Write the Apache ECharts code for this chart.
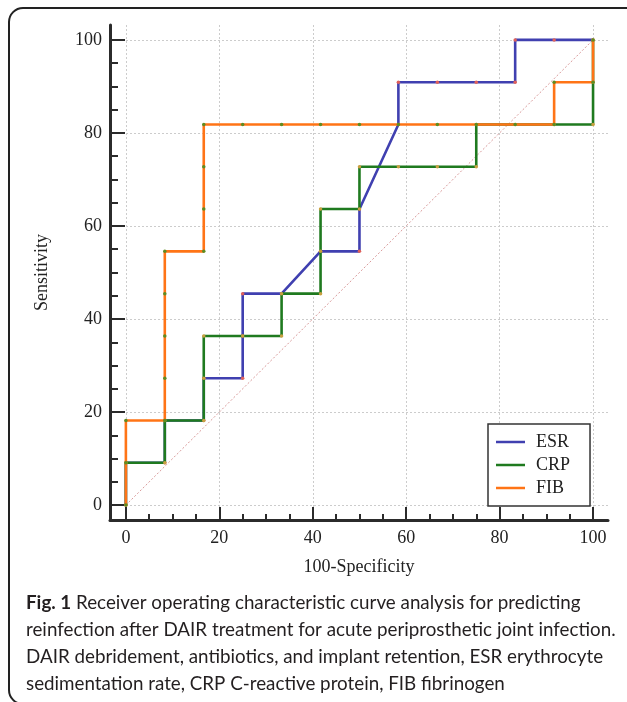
<!DOCTYPE html>
<html>
<head>
<meta charset="utf-8">
<script src="https://cdn.jsdelivr.net/npm/echarts@6.0.0/dist/echarts.min.js"></script>
<style>
html, body { margin: 0; padding: 0; background: #fff; }
#chart { width: 627px; height: 702px; }
</style>
</head>
<body>
<div id="chart"></div>
<script>
// ROC points: x = 100-Specificity, y = Sensitivity
var esrX = [0, 0, 8.33, 8.33, 16.67, 16.67, 25, 25, 25, 33.33, 41.67, 50, 50, 58.33, 58.33, 66.67, 75, 83.33, 83.33, 91.67, 100];
var esrY = [0, 9.09, 9.09, 18.18, 18.18, 27.27, 27.27, 36.36, 45.45, 45.45, 54.55, 54.55, 63.64, 81.82, 90.91, 90.91, 90.91, 90.91, 100, 100, 100];

var crpX = [0, 0, 8.33, 8.33, 16.67, 16.67, 16.67, 25, 33.33, 33.33, 41.67, 41.67, 41.67, 50, 50, 58.33, 66.67, 75, 75, 83.33, 91.67, 100, 100, 100];
var crpY = [0, 9.09, 9.09, 18.18, 18.18, 27.27, 36.36, 36.36, 36.36, 45.45, 45.45, 54.55, 63.64, 63.64, 72.73, 72.73, 72.73, 72.73, 81.82, 81.82, 81.82, 81.82, 90.91, 100];

var fibX = [0, 0, 0, 8.33, 8.33, 8.33, 8.33, 8.33, 16.67, 16.67, 16.67, 16.67, 25, 33.33, 41.67, 50, 58.33, 66.67, 75, 83.33, 91.67, 91.67, 100, 100];
var fibY = [0, 9.09, 18.18, 18.18, 27.27, 36.36, 45.45, 54.55, 54.55, 63.64, 72.73, 81.82, 81.82, 81.82, 81.82, 81.82, 81.82, 81.82, 81.82, 81.82, 81.82, 90.91, 90.91, 100];

var refX = [0, 100];
var refY = [0, 100];

var majorTicks = [0, 20, 40, 60, 80, 100];
var minorTicks = [5, 10, 15, 25, 30, 35, 45, 50, 55, 65, 70, 75, 85, 90, 95];

var seriesNames = ['ESR', 'CRP', 'FIB'];
var lineColors = ['#4040b0', '#1f7a1f', '#ff7416'];
var dotColors = ['#e0605a', '#c8a040', '#5e8c22'];

var captionLines = [
    '{b|Fig. 1} Receiver operating characteristic curve analysis for predicting',
    'reinfection after DAIR treatment for acute periprosthetic joint infection.',
    'DAIR debridement, antibiotics, and implant retention, ESR erythrocyte',
    'sedimentation rate, CRP C-reactive protein, FIB fibrinogen'
];

function pairs(xs, ys) {
    var out = [];
    for (var i = 0; i < xs.length; i++) out.push([xs[i], ys[i]]);
    return out;
}

var serif = 'Liberation Serif';
var axisColor = '#2b2b2b';

var chart = echarts.init(document.getElementById('chart'), null, { renderer: 'canvas' });

function mainAxis(name, gap, tickLen, labelMargin, min, max, pos) {
    return {
        type: 'value',
        position: pos,
        min: min,
        max: max,
        name: name,
        nameLocation: 'middle',
        nameGap: gap,
        nameTextStyle: { fontFamily: serif, fontSize: 18, color: '#222' },
        axisLine: { show: true, onZero: false, lineStyle: { color: axisColor, width: 3 } },
        axisTick: { show: true, inside: true, length: tickLen, customValues: majorTicks,
                    lineStyle: { color: axisColor, width: 2 } },
        axisLabel: { customValues: majorTicks, margin: labelMargin,
                     fontFamily: serif, fontSize: 18, color: '#222' },
        splitLine: { show: true, lineStyle: { color: '#cccccc', width: 1, type: [2, 2] } }
    };
}

function minorAxis(min, max, pos, tickLen) {
    return {
        type: 'value',
        position: pos,
        min: min,
        max: max,
        axisLine: { show: false, onZero: false },
        axisTick: { show: true, inside: true, length: tickLen, customValues: minorTicks,
                    lineStyle: { color: axisColor, width: 2 } },
        axisLabel: { show: false },
        splitLine: { show: false }
    };
}

var series = [{
    name: 'ref',
    type: 'line',
    data: pairs(refX, refY),
    symbol: 'none',
    silent: true,
    lineStyle: { color: '#d99a9a', width: 1, type: [2, 2] },
    z: 1
}];
var lists = [[esrX, esrY], [crpX, crpY], [fibX, fibY]];
for (var i = 0; i < seriesNames.length; i++) {
    series.push({
        name: seriesNames[i],
        type: 'line',
        data: pairs(lists[i][0], lists[i][1]),
        symbol: 'circle',
        symbolSize: 3.5,
        showAllSymbol: true,
        itemStyle: { color: dotColors[i] },
        lineStyle: { color: lineColors[i], width: 2.6 },
        z: 2 + i
    });
}

var option = {
    animation: false,
    backgroundColor: '#fff',
    grid: { left: 110, right: 19, top: 25, bottom: 182, containLabel: false, outerBoundsMode: 'none' },
    xAxis: [
        mainAxis('100-Specificity', 38, 13, 9, -3.4, 103.2, 'bottom'),
        minorAxis(-3.4, 103.2, 'bottom', 6)
    ],
    yAxis: [
        (function () { var a = mainAxis('Sensitivity', 59, 15, 8, -3.2, 103.2, 'left'); a.nameRotate = 90; return a; })(),
        minorAxis(-3.2, 103.2, 'left', 8)
    ],
    legend: {
        data: seriesNames.map(function (n, i) {
            return { name: n, itemStyle: { color: lineColors[i] } };
        }),
        orient: 'vertical',
        left: 488,
        top: 424,
        icon: 'rect',
        itemWidth: 29,
        itemHeight: 2.5,
        itemGap: 5,
        padding: [9, 20, 9, 8],
        borderColor: '#333',
        borderWidth: 1.5,
        backgroundColor: '#fff',
        textStyle: { fontFamily: serif, fontSize: 18, color: '#222', lineHeight: 18, padding: [0, 0, 0, 6] }
    },
    series: series,
    graphic: [
        {
            type: 'rect',
            silent: true,
            shape: { x: 9, y: 8, width: 680, height: 696, r: 14 },
            style: { fill: 'none', stroke: '#222', lineWidth: 2 }
        },
        {
            type: 'text',
            silent: true,
            x: 26,
            y: 590,
            style: {
                text: captionLines.join('\n'),
                fontFamily: 'Lato',
                fontSize: 18.8,
                lineHeight: 26.7,
                fill: '#231f20',
                rich: {
                    b: { fontFamily: 'Lato', fontWeight: 'bold', fontSize: 18.8, lineHeight: 26.7, fill: '#231f20' }
                }
            }
        }
    ]
};

chart.setOption(option);
</script>
</body>
</html>
